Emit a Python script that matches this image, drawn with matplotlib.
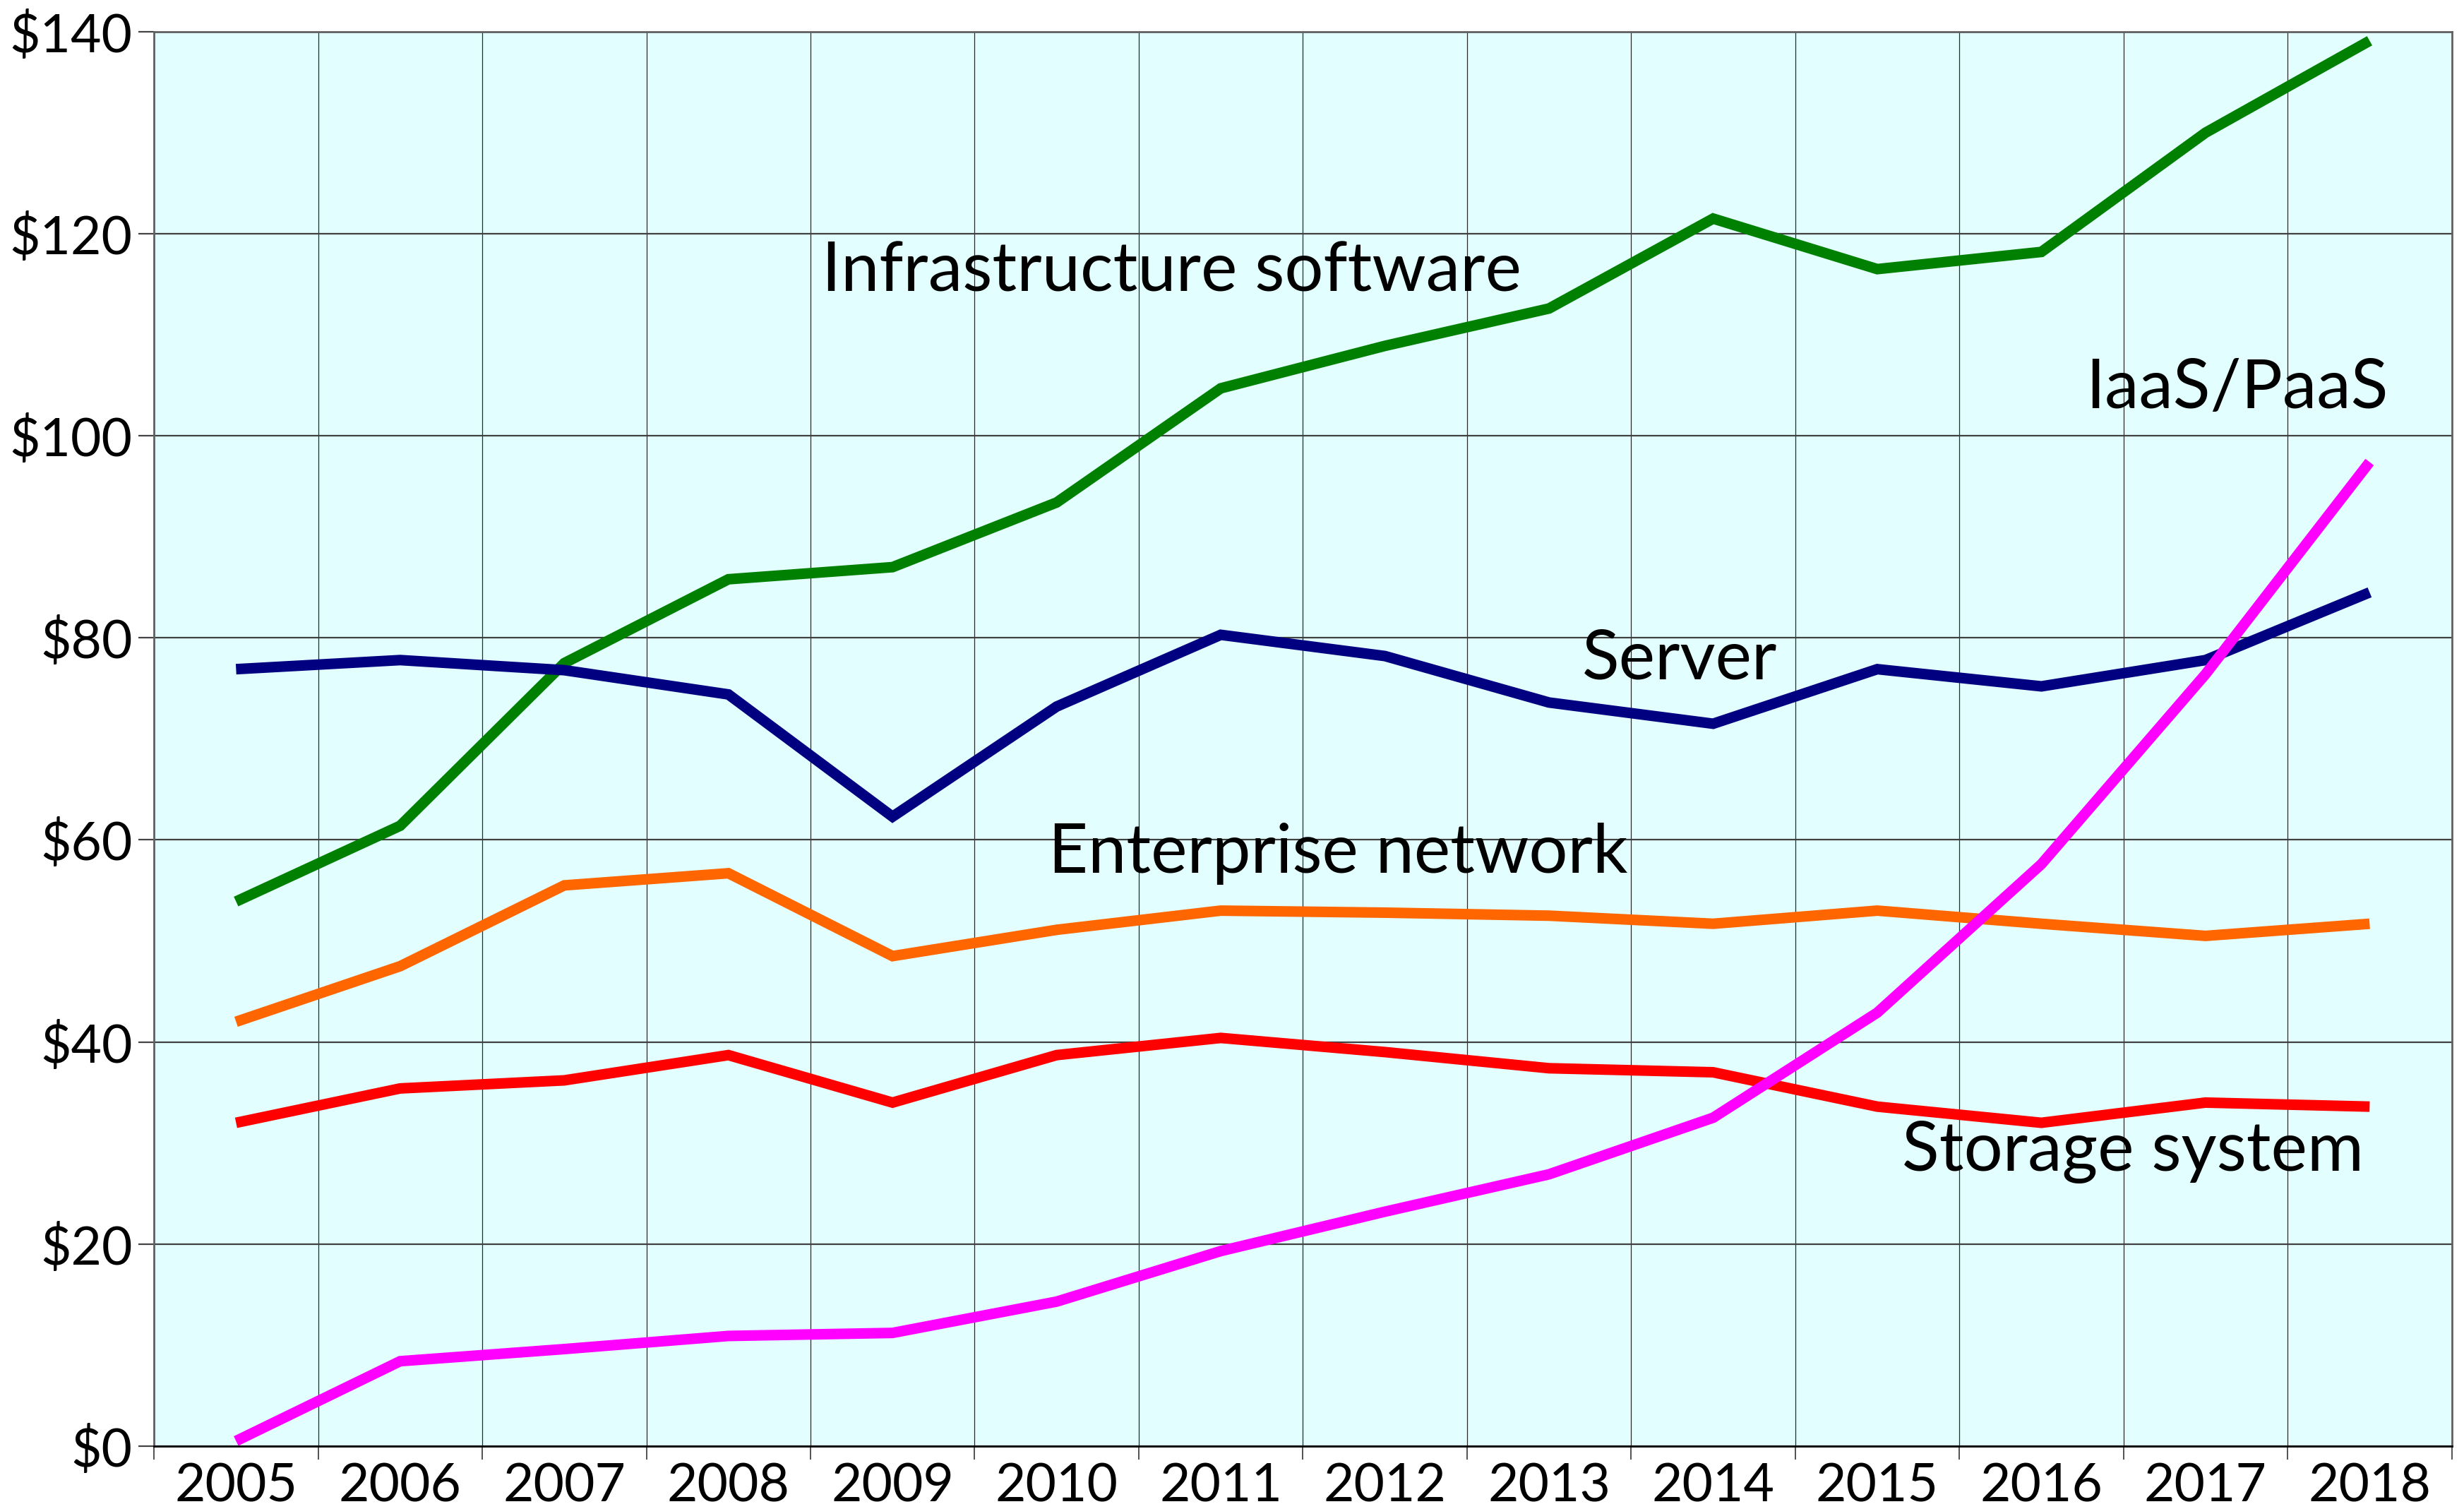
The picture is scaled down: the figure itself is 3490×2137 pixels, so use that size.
import matplotlib
matplotlib.use("Agg")
import matplotlib.pyplot as plt
import numpy as np

plt.rcParams['font.family'] = ['Lato', 'DejaVu Sans']

years = ["2005", "2006", "2007", "2008", "2009", "2010", "2011",
         "2012", "2013", "2014", "2015", "2016", "2017", "2018"]

infrastructure_software = [53.9, 61.4, 77.5, 85.8, 87.0, 93.4, 104.7,
                           108.9, 112.6, 121.5, 116.5, 118.2, 130.0, 139.1]
server = [76.9, 77.8, 76.8, 74.4, 62.3, 73.2, 80.3,
          78.2, 73.6, 71.5, 76.9, 75.2, 77.8, 84.5]
enterprise_network = [42.0, 47.5, 55.5, 56.7, 48.5, 51.1, 53.0,
                      52.8, 52.5, 51.7, 53.0, 51.7, 50.5, 51.7]
storage_system = [32.0, 35.4, 36.2, 38.7, 34.0, 38.7, 40.4,
                  39.0, 37.4, 37.0, 33.6, 32.0, 34.0, 33.6]
iaas_paas = [0.5, 8.4, 9.6, 10.9, 11.2, 14.3, 19.3,
             23.2, 26.9, 32.5, 42.9, 57.6, 76.4, 97.4]

y_ticks = [0, 20, 40, 60, 80, 100, 120, 140]
y_labels = ["$0", "$20", "$40", "$60", "$80", "$100", "$120", "$140"]

series = [
    ("Infrastructure software", infrastructure_software, "#008000"),
    ("Server", server, "#000080"),
    ("Enterprise network", enterprise_network, "#FF6600"),
    ("Storage system", storage_system, "#FF0000"),
    ("IaaS/PaaS", iaas_paas, "#FF00FF"),
]

fig = plt.figure(figsize=(17.45, 10.685), dpi=200)
ax = fig.add_axes([0.0625, 0.0417, 0.9325, 0.9373])
ax.set_facecolor("#E2FEFE")

x = np.arange(len(years))
for name, vals, col in series:
    ax.plot(x, vals, color=col, lw=5.4, solid_capstyle='butt',
            solid_joinstyle='miter', zorder=3)

ax.set_xlim(-0.5, len(years) - 0.5)
ax.set_ylim(0, 140)

ax.set_xticks(x)
ax.set_xticklabels(years, fontsize=27)
ax.tick_params(axis='x', which='major', length=0, pad=8)
ax.set_xticks(np.arange(-0.5, len(years), 1.0), minor=True)
ax.tick_params(axis='x', which='minor', length=7, width=0.6,
               color='#333333', direction='out')

ax.set_yticks(y_ticks)
ax.set_yticklabels(y_labels, fontsize=27)
ax.tick_params(axis='y', which='major', length=8, width=0.8,
               color='#444444', direction='out', pad=3)

ax.grid(True, axis='x', which='minor', color='#2a2a2a', lw=0.45, zorder=1)
ax.grid(False, axis='x', which='major')
ax.grid(True, axis='y', which='major', color='#404040', lw=0.8, zorder=1)

for side in ['left', 'top', 'right']:
    ax.spines[side].set_color('#606060')
    ax.spines[side].set_linewidth(1.0)
ax.spines['bottom'].set_color('#000000')
ax.spines['bottom'].set_linewidth(1.0)

labels = [
    ("Infrastructure software", 3.57, 116.2),
    ("IaaS/PaaS", 11.27, 104.6),
    ("Server", 8.20, 77.8),
    ("Enterprise network", 4.95, 58.6),
    ("Storage system", 10.15, 29.1),
]
for txt, lx, ly in labels:
    ax.text(lx, ly, txt, fontsize=35, ha='left', va='center',
            color='black', zorder=4)

fig.savefig("out.png", dpi=200)
